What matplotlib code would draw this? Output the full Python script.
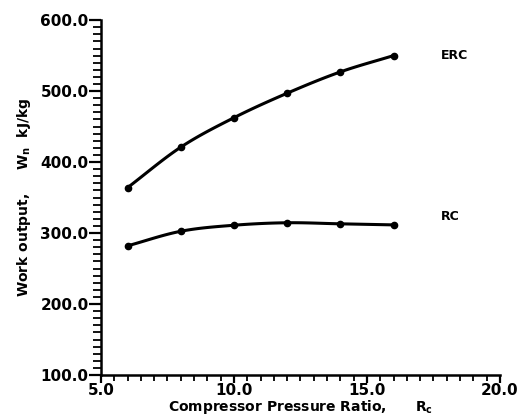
import numpy as np
import matplotlib
matplotlib.use("Agg")
import matplotlib.pyplot as plt
from matplotlib.ticker import MultipleLocator, FormatStrFormatter

plt.rcParams['font.family'] = ['DejaVu Sans']
plt.rcParams['font.weight'] = 'bold'
plt.rcParams['mathtext.fontset'] = 'custom'
plt.rcParams['mathtext.rm'] = 'DejaVu Sans:bold'
plt.rcParams['mathtext.it'] = 'DejaVu Sans:bold'
plt.rcParams['mathtext.bf'] = 'DejaVu Sans:bold'

pressure_ratio = [6.0, 8.0, 10.0, 12.0, 14.0, 16.0]
erc_work = [364.0, 421.0, 462.5, 497.0, 527.0, 550.0]
rc_work = [282.0, 302.5, 311.0, 314.5, 313.0, 311.5]
series_labels = ["ERC", "RC"]


def smooth(x, y, n=20):
    x = np.asarray(x, float); y = np.asarray(y, float)
    px = np.concatenate([[2 * x[0] - x[1]], x, [2 * x[-1] - x[-2]]])
    py = np.concatenate([[2 * y[0] - y[1]], y, [2 * y[-1] - y[-2]]])
    xs, ys = [], []
    for i in range(1, len(px) - 2):
        t = np.linspace(0, 1, n, endpoint=(i == len(px) - 3))
        for arr, out in ((px, xs), (py, ys)):
            p0, p1, p2, p3 = arr[i - 1], arr[i], arr[i + 1], arr[i + 2]
            out.append(0.5 * ((2 * p1) + (-p0 + p2) * t + (2 * p0 - 5 * p1 + 4 * p2 - p3) * t ** 2
                              + (-p0 + 3 * p1 - 3 * p2 + p3) * t ** 3))
    return np.concatenate(xs), np.concatenate(ys)


fig = plt.figure(figsize=(5.18, 4.19), dpi=100)
ax = fig.add_axes([0.195, 0.105, 0.77, 0.847])

for yv, lab in ((erc_work, series_labels[0]), (rc_work, series_labels[1])):
    sx, sy = smooth(pressure_ratio, yv)
    ax.plot(sx, sy, color='black', lw=2.2, solid_capstyle='round')
    ax.plot(pressure_ratio, yv, 'o', color='black', ms=4.5)
    ax.text(pressure_ratio[-1] + 1.8, yv[-1] + (0 if lab == "ERC" else 12), lab,
            fontsize=9, fontweight='bold', va='center', ha='left')

ax.set_xlim(5.0, 20.0)
ax.set_ylim(100.0, 600.0)
ax.xaxis.set_major_locator(MultipleLocator(5.0))
ax.xaxis.set_minor_locator(MultipleLocator(0.5))
ax.yaxis.set_major_locator(MultipleLocator(100.0))
ax.yaxis.set_minor_locator(MultipleLocator(10.0))
ax.xaxis.set_major_formatter(FormatStrFormatter('%.1f'))
ax.yaxis.set_major_formatter(FormatStrFormatter('%.1f'))

for s in ('top', 'right'):
    ax.spines[s].set_visible(False)
for s in ('left', 'bottom'):
    ax.spines[s].set_linewidth(1.8)

ax.tick_params(axis='y', which='major', direction='out', length=9, width=1.6, labelsize=11, pad=0)
ax.tick_params(axis='y', which='minor', direction='out', length=6, width=1.3)
ax.tick_params(axis='x', which='major', direction='out', length=6, width=1.6, labelsize=11, pad=0)
ax.tick_params(axis='x', which='minor', direction='out', length=4.5, width=1.3)
for lbl in ax.get_xticklabels() + ax.get_yticklabels():
    lbl.set_fontweight('bold')

ax.set_xlabel(r"Compressor Pressure Ratio,      $R_c$", fontsize=10, fontweight='bold', labelpad=0)
ax.set_ylabel(r"Work output,     $W_n$  kJ/kg", fontsize=10, fontweight='bold', labelpad=5)

fig.savefig("out.png", dpi=100, facecolor='white')
